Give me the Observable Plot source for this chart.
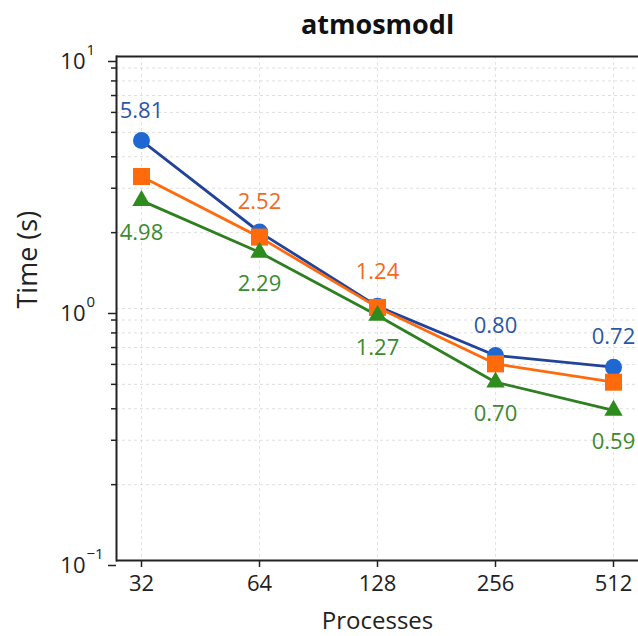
<!DOCTYPE html>
<html><head><meta charset="utf-8">
<script src="https://cdn.jsdelivr.net/npm/d3@7"></script>
<script src="https://cdn.jsdelivr.net/npm/@observablehq/plot@0.6"></script>
<style>body{margin:0;background:#fff;overflow:hidden;}</style>
</head><body><div id="chart"></div>
<script>
const title = "atmosmodl";
const xLabel = "Processes";
const yLabel = "Time (s)";
const processes = [32, 64, 128, 256, 512];
const blueTimes = [4.64, 2.01, 1.02, 0.651, 0.585];
const orangeTimes = [3.34, 1.92, 1.01, 0.603, 0.510];
const greenTimes = [2.68, 1.67, 0.938, 0.510, 0.394];
const blueLabels = ["5.81", null, null, "0.80", "0.72"];
const orangeLabels = [null, "2.52", "1.24", null, null];
const greenLabels = ["4.98", "2.29", "1.27", "0.70", "0.59"];
const majorTicks = [0.1, 1, 10];
const majorExponents = ["−1", "0", "1"];
const minorTicks = [0.2, 0.3, 0.4, 0.5, 0.6, 0.7, 0.8, 0.9, 2, 3, 4, 5, 6, 7, 8, 9];

const series = [
  {times: blueTimes, labels: blueLabels, symbol: "circle", r: 8.5, marker: "#1f68d2", line: "#21439a", text: "#2b57a6", dy: -30},
  {times: orangeTimes, labels: orangeLabels, symbol: "square", r: 9.6, marker: "#ff6a0d", line: "#ff6a0d", text: "#f2691e", dy: -35},
  {times: greenTimes, labels: greenLabels, symbol: "triangle", r: 6.8, marker: "#2e8b1e", line: "#2d7f1f", text: "#3b8a2e", dy: 32}
];

const marks = [
  Plot.gridY([...minorTicks, ...majorTicks], {stroke: "#c8c8c8", strokeOpacity: 0.6, strokeDasharray: "3,3"}),
  Plot.gridX(processes, {stroke: "#c8c8c8", strokeOpacity: 0.5, strokeDasharray: "3,3"}),
  Plot.axisY(minorTicks, {tickSize: 5, tickFormat: () => "", strokeWidth: 1.5, stroke: "#222", label: null}),
  Plot.axisY(majorTicks, {tickSize: 8, tickPadding: 23, tickFormat: () => "10", fontSize: 22, dy: 5, fill: "#222", stroke: "#222", strokeWidth: 1.5, label: null}),
  Plot.text(majorTicks, {y: d => d, text: (d, i) => majorExponents[i], frameAnchor: "left", textAnchor: "start", dx: -30, dy: -6, fontSize: 15, fill: "#222"}),
  Plot.axisX(processes, {tickSize: 7, tickPadding: 8, fontSize: 22, label: null, fill: "#222", stroke: "#222", strokeWidth: 1.5}),
  Plot.ruleY([10], {stroke: "#222", strokeWidth: 2}),
  Plot.ruleY([0.1], {stroke: "#222", strokeWidth: 2}),
  Plot.frame({anchor: "left", stroke: "#222", strokeWidth: 2}),
  Plot.text([title], {frameAnchor: "top", lineAnchor: "middle", dy: -31, fontSize: 27, fontWeight: "bold", fill: "#111"}),
  Plot.text([yLabel], {frameAnchor: "left", rotate: -90, dx: -88, fontSize: 27, fill: "#222"}),
  Plot.text([xLabel], {frameAnchor: "bottom", lineAnchor: "middle", dy: 61, fontSize: 24, fill: "#222"})
];

for (const s of series) {
  const rows = processes.map((p, i) => ({p, t: s.times[i], label: s.labels[i]}));
  marks.push(Plot.line(rows, {x: "p", y: "t", stroke: s.line, strokeWidth: 2.8}));
}
for (const s of series) {
  const rows = processes.map((p, i) => ({p, t: s.times[i], label: s.labels[i]}));
  marks.push(Plot.dot(rows, {x: "p", y: "t", symbol: s.symbol, r: s.r, fill: s.marker, stroke: "none"}));
  marks.push(Plot.text(rows.filter(d => d.label !== null), {x: "p", y: "t", text: "label", dy: s.dy, fontSize: 22, fill: s.text}));
}

const chart = Plot.plot({
  width: 638,
  height: 636,
  marginLeft: 116,
  marginRight: 0,
  marginTop: 56,
  marginBottom: 76,
  style: {fontFamily: "'Open Sans', sans-serif", background: "#fff"},
  x: {type: "point", domain: processes, padding: 0.206, label: null},
  y: {type: "log", domain: [0.1, 10], label: null},
  marks
});
document.getElementById("chart").appendChild(chart);
</script>
</body></html>
